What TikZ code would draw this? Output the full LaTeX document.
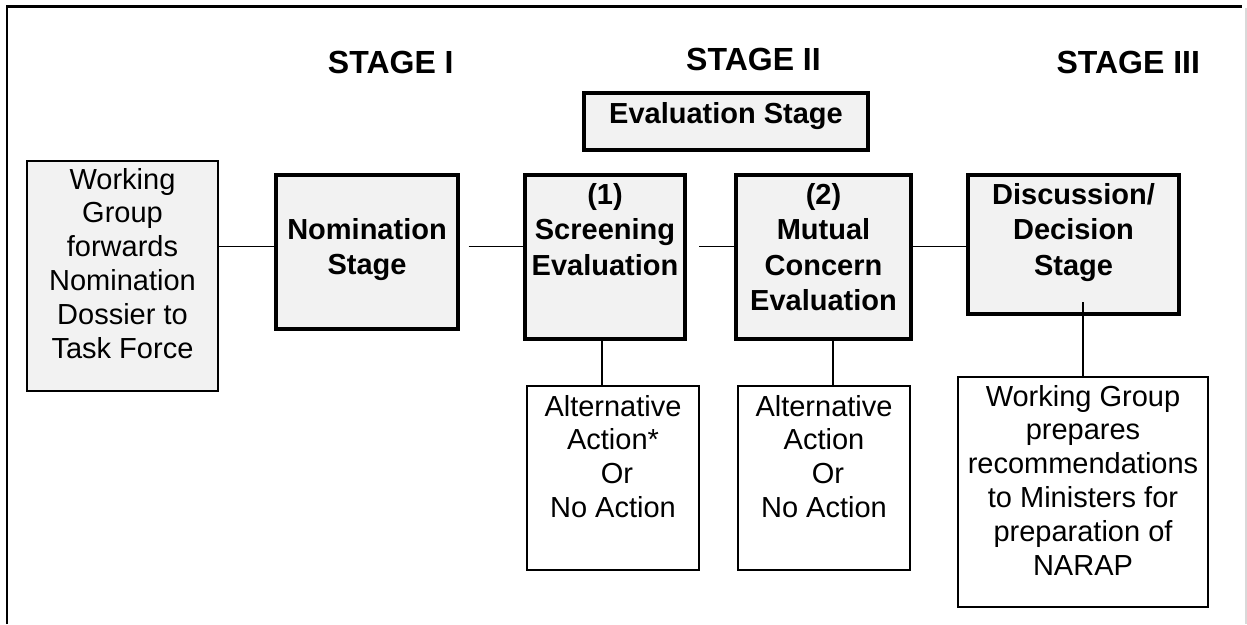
\documentclass[tikz,border=0pt]{standalone}
\usepackage{fontspec}
\setmainfont{Liberation Sans}
\usetikzlibrary{calc}

% box text: width, height, top gap, lines
\newcommand{\boxtext}[4]{\parbox[t][#2pt][t]{#1pt}{\centering\vspace*{#3pt}#4}}

\tikzset{
    stagebox/.style={draw, line width=4pt, fill=black!5, inner sep=0pt,
        font=\fontsize{29}{35.5}\selectfont\bfseries},
    greybox/.style={draw, line width=2pt, fill=black!5, inner sep=0pt,
        font=\fontsize{29}{33.9}\selectfont},
    plainbox/.style={draw, line width=2pt, fill=white, inner sep=0pt,
        font=\fontsize{29}{33.9}\selectfont},
    stagetitle/.style={inner sep=0pt, anchor=base,
        font=\fontsize{32}{38}\selectfont\bfseries},
    link/.style={line width=1.3pt}
}

\begin{document}
\begin{tikzpicture}[x=1pt,y=-1pt]
        \useasboundingbox (0,0) rectangle (1247,624);
        % frame %
        \draw[line width=2.5pt] (7,624) -- (7,6.5) -- (1242,6.5);
        \draw[black!15, line width=1.5pt] (1246,8) -- (1246,624);
        % nodes %
        \node[stagetitle] (st1) at (390.8,73.3) {STAGE I};
        \node[stagetitle] (st2) at (753.5,70) {STAGE II};
        \node[stagetitle] (st3) at (1128.3,73.3) {STAGE III};
        \node[stagebox] (eval) at (726,121.5) {\boxtext{284}{57}{9}{Evaluation Stage}};
        \node[greybox] (wg) at (122.5,275.75)
            {\boxtext{191}{229.5}{7}{Working\\Group\\forwards\\Nomination\\Dossier to\\Task Force}};
        \node[stagebox] (nom) at (367,252) {\boxtext{182}{154}{43}{Nomination\\Stage}};
        \node[stagebox] (scr) at (605,257) {\boxtext{160}{164}{8}{(1)\\Screening\\Evaluation}};
        \node[stagebox] (mut) at (823.5,256.75) {\boxtext{175}{163.5}{8}{(2)\\Mutual\\Concern\\Evaluation}};
        \node[stagebox] (disc) at (1073.5,244.5) {\boxtext{211}{139}{8}{Discussion/\\Decision\\Stage}};
        \node[plainbox] (alt1) at (613,478) {\boxtext{172}{184}{9}{Alternative\\Action*\\\ Or\\No Action}};
        \node[plainbox] (alt2) at (824,478) {\boxtext{172}{184}{9}{Alternative\\Action\\\ Or\\No Action}};
        \node[plainbox] (prep) at (1083,492)
            {\boxtext{250}{230}{8}{Working Group\\prepares\\recommendations\\to Ministers for\\preparation of\\NARAP}};
        \coordinate (row) at (0,246.5);
        % edges %
        \draw[link] (wg.east |- row) -- (nom.west |- row);
        \draw[link, shorten <=8.5pt] (nom.east |- row) -- (scr.west |- row);
        \draw[link, shorten <=12pt] (scr.east |- row) -- (mut.west |- row);
        \draw[link] (mut.east |- row) -- (disc.west |- row);
        \draw[link] ([xshift=-3pt]scr.south) -- ([xshift=-3pt]scr.south |- alt1.north);
        \draw[link] ([xshift=9.5pt]mut.south) -- ([xshift=9.5pt]mut.south |- alt2.north);
        \draw[link, shorten >=-14pt] (prep.north) -- (prep.north |- disc.south);
\end{tikzpicture}
\end{document}
